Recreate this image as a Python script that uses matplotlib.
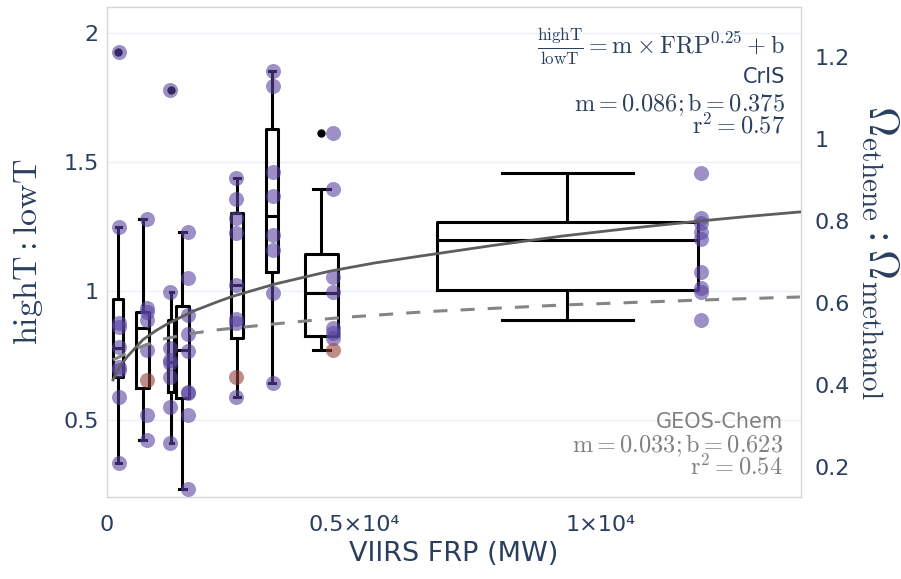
import matplotlib.pyplot as plt

plt.rcParams['font.family'] = ['DejaVu Sans']
plt.rcParams['mathtext.fontset'] = 'cm'

# FRP (MW) de cada grupo de puntos
frp_grupos = [243, 810, 1275, 1640, 2611, 3360, 4575, 12024]

# highT : lowT de cada grupo (puntos morados)
g1 = [1.925, 1.248, 0.876, 0.861, 0.783, 0.706, 0.694, 0.590, 0.335]
g2 = [1.279, 0.934, 0.919, 0.888, 0.772, 0.520, 0.424]
g3 = [1.778, 0.996, 0.780, 0.733, 0.721, 0.667, 0.551, 0.412]
g4 = [1.228, 1.050, 0.907, 0.834, 0.768, 0.609, 0.605, 0.520, 0.234]
g5 = [1.437, 1.356, 1.282, 1.224, 1.023, 0.892, 0.876, 0.590]
g6 = [1.851, 1.793, 1.460, 1.368, 1.217, 1.159, 0.992, 0.644]
g7 = [1.611, 1.395, 1.054, 0.996, 0.857, 0.838, 0.818]
g8 = [1.456, 1.282, 1.263, 1.228, 1.201, 1.073, 1.012, 0.996, 0.888]
grupos = [g1, g2, g3, g4, g5, g6, g7, g8]

# puntos rojos
frp_rojos = [810, 2611, 4575]
val_rojos = [0.656, 0.667, 0.772]

# cajas (posicion FRP y estadisticos)
caja_frp = [223, 719, 1296, 1528, 2632, 3340, 4342, 9322]
caja_min = [0.335, 0.424, 0.412, 0.234, 0.590, 0.644, 0.772, 0.888]
caja_q1 = [0.667, 0.625, 0.609, 0.586, 0.818, 1.073, 0.826, 1.004]
caja_med = [0.780, 0.857, 0.727, 0.772, 1.023, 1.290, 0.992, 1.197]
caja_q3 = [0.969, 0.919, 0.888, 0.942, 1.302, 1.627, 1.143, 1.267]
caja_max = [1.248, 1.279, 0.996, 1.228, 1.437, 1.851, 1.395, 1.456]
caja_out = [[1.925], [], [1.778], [], [], [], [1.611], []]

# ajustes
cris_frp = [121, 250, 405, 729, 1000, 1215, 1741, 2287, 2551, 3400, 4514,
            5400, 6336, 7800, 9231, 10600, 12004, 13000, 14028]
cris_val = [0.656, 0.705, 0.745, 0.812, 0.848, 0.872, 0.922, 0.962, 0.980,
            1.027, 1.077, 1.108, 1.135, 1.176, 1.213, 1.243, 1.271, 1.289, 1.306]
geos_frp = [121, 324, 607, 1134, 1680, 2247, 3198, 4717, 6538, 9231, 12004, 14028]
geos_val = [0.733, 0.752, 0.779, 0.814, 0.835, 0.850, 0.869, 0.897, 0.921,
            0.946, 0.965, 0.977]

texto = '#2a3f5f'
morado = '#5a46a2'

fig = plt.figure(figsize=(9.01, 5.79), dpi=100)
ax = fig.add_axes([107 / 901, 1 - 497 / 579, 694 / 901, 490 / 579])

# cajas
stats = []
for i in range(len(caja_frp)):
    stats.append(dict(whislo=caja_min[i], q1=caja_q1[i], med=caja_med[i],
                      q3=caja_q3[i], whishi=caja_max[i], fliers=caja_out[i]))
anchos = [202, 263, 121, 263, 243, 243, 668, 5283]
linea = dict(color='black', linewidth=2.2)
ax.bxp(stats, positions=caja_frp, widths=anchos, manage_ticks=False,
       boxprops=linea, whiskerprops=linea, capprops=linea, medianprops=linea,
       flierprops=dict(marker='o', markerfacecolor='black', markeredgecolor='none',
                       markersize=6), zorder=2)

# puntos
for x, vals in zip(frp_grupos, grupos):
    ax.plot([x] * len(vals), vals, 'o', color=morado, alpha=0.6, ms=10.8,
            mec='none', zorder=3)
ax.plot(frp_rojos, val_rojos, 'o', color='#93403a', alpha=0.6, ms=10.8,
        mec='none', zorder=3)

# ajustes
ax.plot(cris_frp, cris_val, color='#5e5e5e', lw=2, zorder=4)
ax.plot(geos_frp, geos_val, color='#858585', lw=2.2, linestyle=(0, (4.6, 4.3)),
        zorder=4)

ax.set_xlim(0, 14050)
ax.set_ylim(0.203, 2.099)
ax.set_yticks([0.5, 1, 1.5, 2], ['0.5', '1', '1.5', '2'])
ax.set_xticks([0, 5000, 10000], ['0', '0.5×10⁴', '1×10⁴'])
ax.grid(axis='y', color='#ebf0f8', lw=1)
ax.set_axisbelow(True)
ax.tick_params(length=0, labelsize=16, labelcolor=texto)
ax.tick_params(axis='y', pad=6)
ax.tick_params(axis='x', pad=13)
for s in ax.spines.values():
    s.set_color('#d6d6d6')
    s.set_linewidth(1)

ax2 = ax.twinx()
ax2.set_ylim(0.127, 1.322)
ax2.set_yticks([0.2, 0.4, 0.6, 0.8, 1, 1.2], ['0.2', '0.4', '0.6', '0.8', '1', '1.2'])
ax2.tick_params(length=0, labelsize=16, labelcolor=texto, pad=10)
for s in ax2.spines.values():
    s.set_visible(False)

ax.set_xlabel('VIIRS FRP (MW)', fontsize=19.5, color=texto)
ax.xaxis.set_label_coords(0.5, (497 - 554) / 490)
ax.xaxis.label.set_va('center')
ax.set_ylabel(r'$\mathrm{highT : lowT}$', fontsize=24.5, color=texto)
ax.yaxis.set_label_coords((28 - 107) / 694, 0.5)
ax.yaxis.label.set_va('center')
ax2.set_ylabel(r'$\Omega_{\mathrm{ethene}} : \Omega_{\mathrm{methanol}}$',
               fontsize=30, color=texto, rotation=270)
ax2.yaxis.set_label_coords((880 - 107) / 694, 0.5)
ax2.yaxis.label.set_va('center')


def px(x, y):
    return x / 901, 1 - y / 579


# anotaciones
fig.text(*px(785, 47),
         r'$\frac{\mathrm{highT}}{\mathrm{lowT}} = \mathrm{m} \times \mathrm{FRP}^{0.25} + \mathrm{b}$',
         ha='right', va='center', fontsize=17.5, color=texto)
fig.text(*px(785, 83), 'CrIS', ha='right', va='baseline', fontsize=15, color=texto)
fig.text(*px(785, 91),
         '$\\mathrm{m} = 0.086; \\mathrm{b} = 0.375$\n$\\mathrm{r}^2 = 0.57$',
         ha='right', va='top', multialignment='right', linespacing=0.8,
         fontsize=17.5, color=texto)

gris = '#808080'
fig.text(*px(783, 428), 'GEOS-Chem', ha='right', va='baseline', fontsize=15, color=gris)
fig.text(*px(783, 432),
         '$\\mathrm{m} = 0.033; \\mathrm{b} = 0.623$\n$\\mathrm{r}^2 = 0.54$',
         ha='right', va='top', multialignment='right', linespacing=0.8,
         fontsize=17.5, color=gris)

fig.savefig('out.png', dpi=100)
